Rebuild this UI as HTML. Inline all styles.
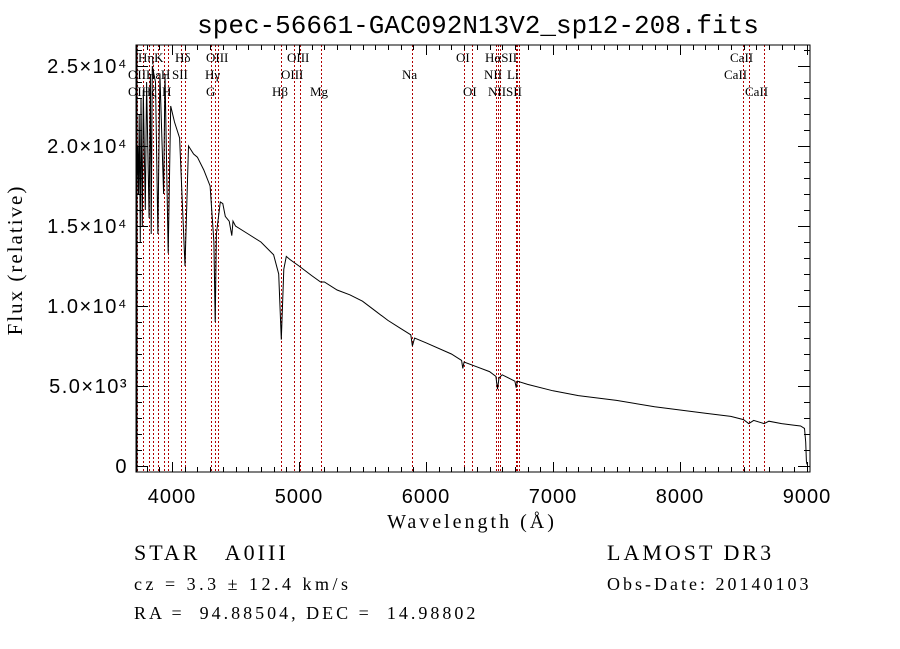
<!DOCTYPE html>
<html><head><meta charset="utf-8"><style>
html,body{margin:0;padding:0;background:#fff;}
svg{display:block;}
text{white-space:pre;}
.t{font-family:"Liberation Serif",serif;fill:#000;}
.s{font-family:"Liberation Sans",sans-serif;fill:#000;}
.m{font-family:"Liberation Mono",monospace;fill:#000;}
</style></head><body>
<svg id="c" width="900" height="649" viewBox="0 0 900 649">
<rect x="0" y="0" width="900" height="649" fill="#fff"/>
<text class="m" x="478" y="33" font-size="26" text-anchor="middle">spec-56661-GAC092N13V2_sp12-208.fits</text>
<g id="lines"></g>
<g id="ticks"></g>
<path id="spec" fill="none" stroke="#000" stroke-width="1"/>
<rect x="136" y="45" width="674" height="427" fill="none" stroke="#000" stroke-width="1"/>
<line x1="136.5" y1="45" x2="136.5" y2="472" stroke="#000" stroke-width="2"/>
<g id="labels" class="t" font-size="13"></g>
<text class="t" x="22" y="260" font-size="21" letter-spacing="2" text-anchor="middle" transform="rotate(-90 22 260)">Flux (relative)</text>
<text class="t" x="472" y="528" font-size="20" letter-spacing="3" text-anchor="middle">Wavelength (Å)</text>
<text class="t" x="134" y="560" font-size="22" letter-spacing="3">STAR   A0III</text>
<text class="t" x="134" y="590" font-size="18" letter-spacing="3.5">cz = 3.3 ± 12.4 km/s</text>
<text class="t" x="134" y="619" font-size="18" letter-spacing="3">RA =  94.88504, DEC =  14.98802</text>
<text class="t" x="607" y="560" font-size="22" letter-spacing="3">LAMOST DR3</text>
<text class="t" x="607" y="590" font-size="18" letter-spacing="3">Obs-Date: 20140103</text>
</svg>
<script>
const wavelengths=[3712,3716,3718,3722,3730,3736,3742,3750,3756,3766,3774,3790,3800,3820,3830,3836,3845,3870,3889,3905,3934,3945,3970,3990,4020,4060,4102,4130,4170,4200,4250,4300,4330,4340,4350,4380,4400,4420,4450,4471,4480,4500,4600,4700,4800,4840,4861,4880,4900,4930,5000,5100,5170,5200,5300,5400,5500,5600,5700,5800,5880,5893,5900,5910,6000,6200,6280,6290,6300,6400,6500,6550,6563,6575,6600,6700,6710,6720,6800,7000,7200,7500,7800,8000,8200,8400,8500,8542,8580,8662,8700,8800,8900,8950,8980,8990,8995,9000];
const fluxes=[0,200,9000,17000,20000,17000,22000,14000,23000,15000,23500,16000,24000,15500,24500,14500,25000,24000,14500,24500,17000,24500,13300,22500,21500,20500,12500,20000,19500,19300,18500,17500,14000,9000,14500,16500,16400,15600,15300,14400,15300,15000,14500,14000,13200,12000,7900,12300,13100,12900,12500,11900,11500,11500,11000,10700,10300,9700,9100,8600,8200,7500,7700,8000,7700,7000,6600,6100,6500,6200,5900,5600,4800,5500,5700,5300,4900,5300,5100,4700,4400,4100,3700,3500,3300,3100,2900,2650,2850,2650,2800,2650,2550,2500,2350,1500,300,100];
const lineWavelengths=[3727,3770,3820,3850,3889,3934,3969,4072,4102,4304,4340,4363,4861,4959,5007,5175,5893,6300,6364,6548,6563,6583,6707,6716,6731,8498,8542,8662];
const xTicks=[4000,5000,6000,7000,8000,9000];
const yTicks=[0,5000,10000,15000,20000,25000];
const yTickLabels=["0","5.0×10³","1.0×10⁴","1.5×10⁴","2.0×10⁴","2.5×10⁴"];
const labelTexts=["HηK","Hδ","OIII","OIII","OI","HαSII","CaII","OIIHεH","SII","Hγ","OIII","Na","NII","Li","CaII","OIHζ","H","G","Hβ","Mg","OI","NIISII","CaII"];
const labelX=[138,175,206,287,456,485,730,128,172,205,281,402,484,507,724,128,162,206,272,310,463,488,745];
const labelRow=[0,0,0,0,0,0,0,1,1,1,1,1,1,1,1,2,2,2,2,2,2,2,2];
const NS="http://www.w3.org/2000/svg";
const X=w=>172+(w-4000)*0.127;
const Y=f=>466-f*0.016;
const X0=136,X1=810,Y0=45,Y1=472;
function mk(tag,attrs,parent){const e=document.createElementNS(NS,tag);for(const k in attrs)e.setAttribute(k,attrs[k]);parent.appendChild(e);return e;}
let d="";
for(let i=0;i<wavelengths.length;i++){const x=Math.max(X0,Math.min(X1,X(wavelengths[i])));d+=(i?"L":"M")+x.toFixed(1)+" "+Y(fluxes[i]).toFixed(1);}
document.getElementById('spec').setAttribute('d',d);
const lg=document.getElementById('lines');
lineWavelengths.forEach(w=>{const x=Math.round(X(w))+0.5;
const l=mk('line',{x1:x,y1:Y0,x2:x,y2:Y1,stroke:'#b00000','stroke-width':1,'stroke-dasharray':'2,2'},lg);

});
const tg=document.getElementById('ticks');
for(let w=3800;w<=9000;w+=100){const x=Math.round(X(w))+0.5;const L=(w%1000===0)?10:5;
mk('line',{x1:x,y1:Y1,x2:x,y2:Y1-L,stroke:'#000'},tg);mk('line',{x1:x,y1:Y0,x2:x,y2:Y0+L,stroke:'#000'},tg);}
for(let f=0;f<=26000;f+=1000){const y=Math.round(Y(f))+0.5;const L=(f%5000===0)?12:6;
mk('line',{x1:X0,y1:y,x2:X0+L,y2:y,stroke:'#000'},tg);mk('line',{x1:X1,y1:y,x2:X1-L,y2:y,stroke:'#000'},tg);}
xTicks.forEach(w=>{const t=mk('text',{x:X(w),y:503,'font-size':20,'letter-spacing':1,'text-anchor':'middle',class:'s'},tg);t.textContent=w;

});
yTicks.forEach((f,i)=>{const t=mk('text',{x:128,y:Y(f)+7,'font-size':20,'letter-spacing':1.5,'text-anchor':'end',class:'s'},tg);t.textContent=yTickLabels[i];

});
const lb=document.getElementById('labels');
labelTexts.forEach((s,i)=>{const t=mk('text',{x:labelX[i],y:62+labelRow[i]*17},lb);t.textContent=s;

});
</script>
</body></html>
